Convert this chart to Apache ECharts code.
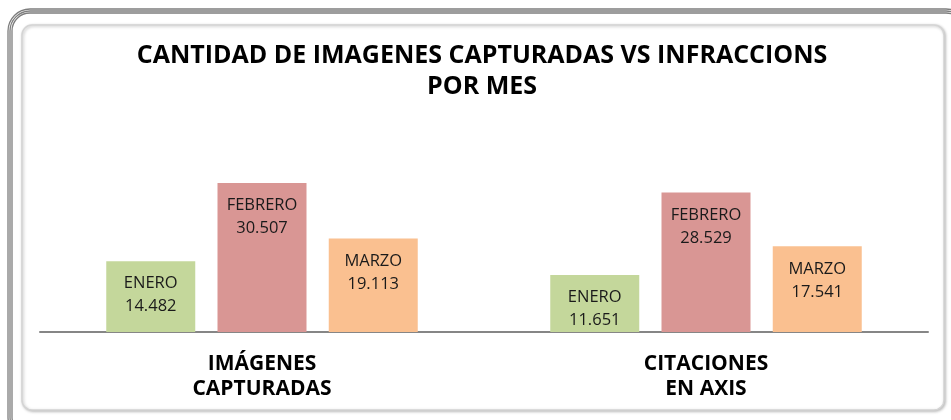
<!DOCTYPE html>
<html>
<head>
<meta charset="utf-8">
<script src="https://cdn.jsdelivr.net/npm/echarts@6/dist/echarts.min.js"></script>
<style>
html,body{margin:0;padding:0;background:#fff;}
#chart{width:951px;height:420px;}
</style>
</head>
<body>
<div id="chart"></div>
<script>
const categories = ['IMÁGENES\nCAPTURADAS', 'CITACIONES\nEN AXIS'];
const seriesNames = ['ENERO', 'FEBRERO', 'MARZO'];
const eneroValues = [14482, 11651];
const febreroValues = [30507, 28529];
const marzoValues = [19113, 17541];
const seriesColors = ['#C4D79B', '#D99694', '#FAC090'];
const titleText = 'CANTIDAD DE IMAGENES CAPTURADAS VS INFRACCIONS\nPOR MES';

const seriesValues = [eneroValues, febreroValues, marzoValues];
const fmt = v => String(v).replace(/\B(?=(\d{3})+(?!\d))/g, '.');

const chart = echarts.init(document.getElementById('chart'), null, {renderer: 'canvas'});

const series = seriesNames.map((name, i) => ({
  name: name,
  type: 'bar',
  data: seriesValues[i],
  barWidth: 89,
  barGap: '25%',
  itemStyle: {color: seriesColors[i]},
  label: {
    show: true,
    position: 'insideTop',
    distance: 11,
    formatter: p => p.seriesName + '\n' + fmt(p.value),
    fontFamily: 'Open Sans',
    fontSize: 16.5,
    lineHeight: 23,
    color: '#1a1a1a'
  }
}));

chart.setOption({
  animation: false,
  backgroundColor: '#ffffff',
  graphic: [
    {type: 'rect', shape: {x: 8, y: 9, width: 960, height: 430, r: 22}, style: {fill: 'none', stroke: '#7d7d7d', lineWidth: 1.3}, z: 0},
    {type: 'rect', shape: {x: 10, y: 11, width: 956, height: 426, r: 20}, style: {fill: 'none', stroke: '#7d7d7d', lineWidth: 1.3}, z: 0},
    {type: 'rect', shape: {x: 12, y: 13, width: 952, height: 422, r: 18}, style: {fill: 'none', stroke: '#7d7d7d', lineWidth: 1.3}, z: 0},
    {type: 'rect', shape: {x: 22, y: 25, width: 922, height: 385, r: 10},
     style: {fill: '#ffffff', stroke: '#d4d4d4', lineWidth: 1.5, shadowBlur: 3, shadowColor: 'rgba(0,0,0,0.25)', shadowOffsetX: 1, shadowOffsetY: 1}, z: 0}
  ],
  title: {
    text: titleText,
    left: 477,
    top: 35,
    textAlign: 'center',
    textStyle: {fontFamily: 'Open Sans', fontWeight: 'bold', fontSize: 25, lineHeight: 31.5, color: '#000'}
  },
  grid: {left: 40, right: 23, top: 161, bottom: 88},
  xAxis: {
    type: 'category',
    data: categories,
    axisLine: {show: true, lineStyle: {color: '#868686', width: 2}},
    axisTick: {show: false},
    axisLabel: {
      margin: 20,
      fontFamily: 'Open Sans',
      fontWeight: 'bold',
      fontSize: 21,
      lineHeight: 24.5,
      color: '#000',
      interval: 0
    }
  },
  yAxis: {
    type: 'value',
    min: 0,
    max: 35000,
    show: false,
    splitLine: {show: false}
  },
  series: series
});
</script>
</body>
</html>
